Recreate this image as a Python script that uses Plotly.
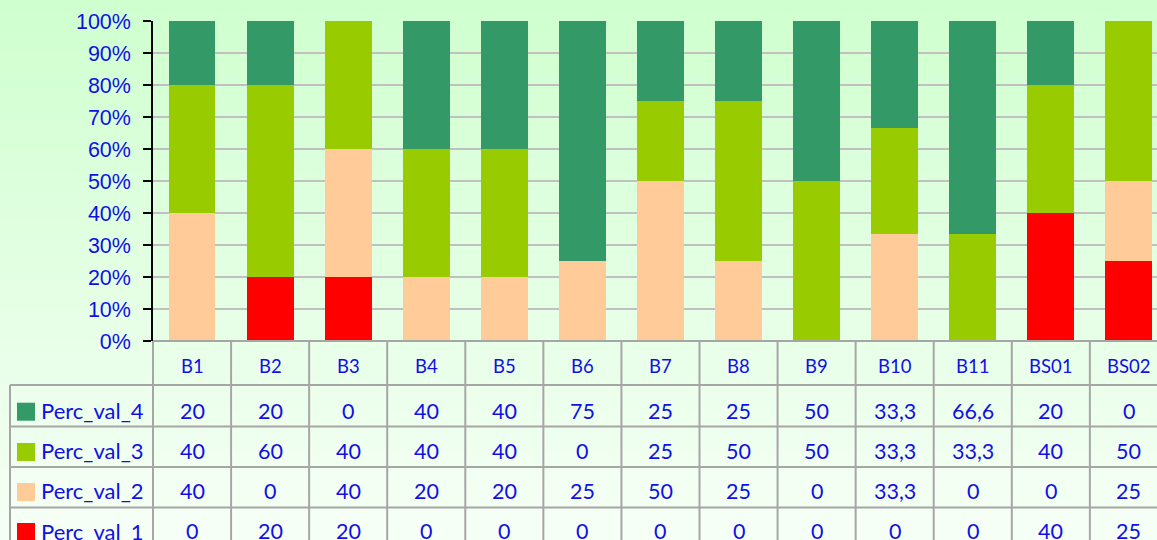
import plotly.graph_objects as go

categories = ["B1", "B2", "B3", "B4", "B5", "B6", "B7", "B8", "B9", "B10", "B11", "BS01", "BS02"]
perc_val_4 = [20, 20, 0, 40, 40, 75, 25, 25, 50, 33.3, 66.6, 20, 0]
perc_val_3 = [40, 60, 40, 40, 40, 0, 25, 50, 50, 33.3, 33.3, 40, 50]
perc_val_2 = [40, 0, 40, 20, 20, 25, 50, 25, 0, 33.3, 0, 0, 25]
perc_val_1 = [0, 20, 20, 0, 0, 0, 0, 0, 0, 0, 0, 40, 25]
series_names = ["Perc_val_1", "Perc_val_2", "Perc_val_3", "Perc_val_4"]
series_values = [perc_val_1, perc_val_2, perc_val_3, perc_val_4]
series_colors = ["#FF0000", "#FFCC99", "#99CC00", "#339966"]
y_ticks = [0, 10, 20, 30, 40, 50, 60, 70, 80, 90, 100]
y_tick_labels = [f"{v}%" for v in y_ticks]

W, H = 1157, 540
L, T, B = 153, 21, 199
PW, PH = W - L, H - T - B
BLUE = "#1010E6"
GRID = "#A6A6A6"


def py(p):  # pixel y -> paper y
    return (H - B - p) / PH


def px(p):  # pixel x -> paper x
    return (p - L) / PW


def fmt(v):
    return (str(int(v)) if float(v).is_integer() else str(v)).replace(".", ",")


fig = go.Figure()
for name, vals, col in zip(series_names, series_values, series_colors):
    fig.add_trace(go.Bar(x=categories, y=vals, name=name, marker=dict(color=col, line=dict(width=0))))

shapes = []
# background gradient
n = 54
for i in range(n):
    t = i / (n - 1)
    r = int(round(207 + (246 - 207) * t))
    c = f"rgb({r},255,{r})"
    y0 = i * H / n
    y1 = (i + 1) * H / n + 0.5
    shapes.append(dict(type="rect", xref="paper", yref="paper", x0=px(-5), x1=px(W + 5),
                       y0=py(y0), y1=py(y1), fillcolor=c, line=dict(width=0), layer="below"))

# table lines
row_lines = [385, 426.5, 467, 507.5]
shapes.append(dict(type="line", xref="paper", yref="paper", x0=0, x1=px(W + 20), y0=py(341), y1=py(341),
                   line=dict(color=GRID, width=2), layer="above"))
for ry in row_lines:
    shapes.append(dict(type="line", xref="paper", yref="paper", x0=px(10), x1=px(W + 20), y0=py(ry), y1=py(ry),
                       line=dict(color=GRID, width=2), layer="above"))
shapes.append(dict(type="line", xref="paper", yref="paper", x0=px(10), x1=px(10), y0=py(385), y1=py(560),
                   line=dict(color=GRID, width=2), layer="above"))
shapes.append(dict(type="line", xref="paper", yref="paper", x0=0, x1=0, y0=py(341), y1=py(560),
                   line=dict(color=GRID, width=2), layer="above"))
for k in range(1, len(categories) + 1):
    shapes.append(dict(type="line", xref="x", yref="paper", x0=k - 0.5, x1=k - 0.5, y0=py(341), y1=py(560),
                       line=dict(color=GRID, width=2), layer="above"))

# legend rows (top to bottom: val_4 .. val_1)
row_centers = [410.5, 450.5, 490.5, 531]
swatch_centers = [411.7, 452, 492, 532]
annotations = []
for ri, si in enumerate([3, 2, 1, 0]):
    sc = swatch_centers[ri]
    shapes.append(dict(type="rect", xref="paper", yref="paper", x0=px(17), x1=px(35), y0=py(sc - 9), y1=py(sc + 9),
                       fillcolor=series_colors[si], line=dict(width=0), layer="above"))
    annotations.append(dict(text=series_names[si], xref="paper", yref="paper", x=px(39), y=py(row_centers[ri]),
                            xanchor="left", yanchor="middle", showarrow=False,
                            font=dict(family="Lato", size=22, color=BLUE)))
    for ci, cat in enumerate(categories):
        annotations.append(dict(text=fmt(series_values[si][ci]), xref="x", yref="paper", x=ci, y=py(row_centers[ri]),
                                xanchor="center", yanchor="middle", showarrow=False,
                                font=dict(family="Lato", size=21.5, color=BLUE)))
for ci, cat in enumerate(categories):
    annotations.append(dict(text=cat, xref="x", yref="paper", x=ci, y=py(365.5),
                            xanchor="center", yanchor="middle", showarrow=False,
                            font=dict(family="Lato", size=18.5, color=BLUE)))

fig.update_layout(
    width=W, height=H,
    margin=dict(l=L, r=0, t=T, b=B, pad=0),
    barmode="stack", barnorm="percent", bargap=0.4,
    showlegend=False,
    paper_bgcolor="rgb(246,255,246)",
    plot_bgcolor="rgba(0,0,0,0)",
    shapes=shapes,
    annotations=annotations,
    xaxis=dict(type="category", range=[-0.5, 12.36], showticklabels=False, showgrid=False,
               showline=False, ticks="", zeroline=False),
    yaxis=dict(range=[0, 100], tickmode="array", tickvals=y_ticks, ticktext=y_tick_labels,
               showgrid=True, gridcolor="#C0C0C0",
               gridwidth=1.5, showline=True, linecolor="black", linewidth=1.5, ticks="outside",
               ticklen=8, tickcolor="black", tickwidth=1.5, zeroline=False, ticklabelstandoff=8,
               tickfont=dict(family="Liberation Sans", size=21.5, color=BLUE)),
)

fig.write_html("out.html", config={"displayModeBar": False},
               post_script="document.body.style.margin='0';document.body.style.padding='0';"
                           "document.body.style.overflow='hidden';")
